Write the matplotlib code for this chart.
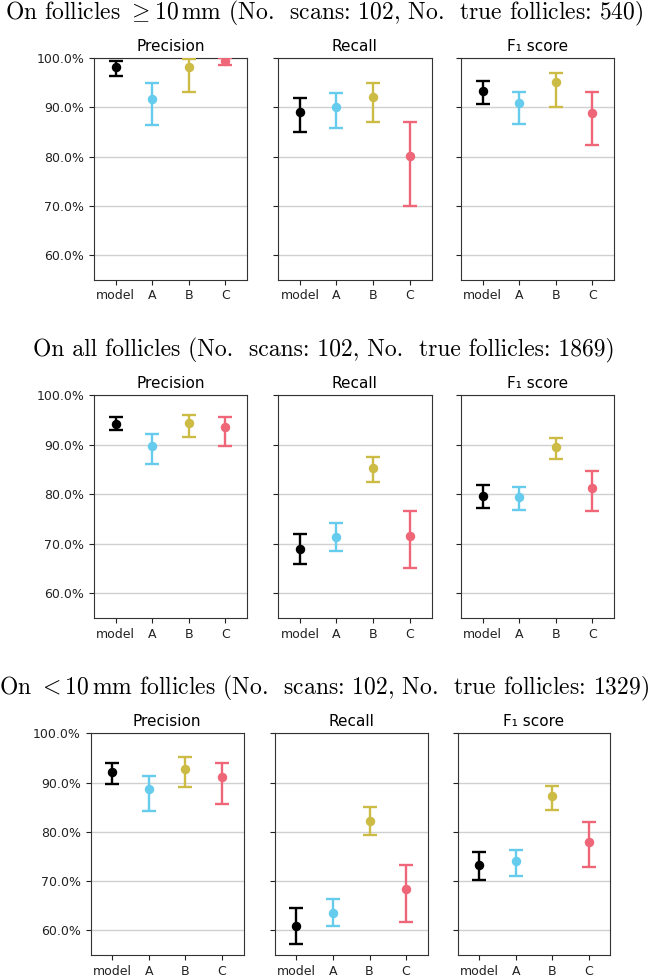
import matplotlib
matplotlib.use("Agg")
import matplotlib.pyplot as plt
import numpy as np
from matplotlib.ticker import PercentFormatter

# annotators / model and their colours
names = ["model", "A", "B", "C"]
colors = ["black", "#66CCEE", "#CCBB44", "#EE6677"]
metrics = ["Precision", "Recall", "F\u2081 score"]

titles = [
    r"On follicles ${\geq}$10$\,$mm (No.  scans: 102, No.  true follicles: 540)",
    r"On all follicles (No.  scans: 102, No.  true follicles: 1869)",
    r"On ${<}$10$\,$mm follicles (No.  scans: 102, No.  true follicles: 1329)",
]

# values in %, per metric: [model, A, B, C]
# --- follicles >= 10 mm
big_prec = [98.3, 91.7, 98.3, 99.5]
big_prec_lo = [96.5, 86.5, 93.2, 98.6]
big_prec_hi = [99.4, 94.9, 99.9, 100.0]
big_rec = [89.0, 90.0, 92.2, 80.2]
big_rec_lo = [85.0, 85.8, 87.0, 70.0]
big_rec_hi = [91.9, 93.0, 94.9, 87.1]
big_f1 = [93.4, 90.9, 95.2, 88.8]
big_f1_lo = [90.8, 86.7, 90.0, 82.3]
big_f1_hi = [95.3, 93.2, 97.1, 93.1]

# --- all follicles
all_prec = [94.3, 89.7, 94.4, 93.6]
all_prec_lo = [92.9, 86.2, 91.6, 89.8]
all_prec_hi = [95.6, 92.1, 96.1, 95.6]
all_rec = [68.9, 71.3, 85.3, 71.6]
all_rec_lo = [66.0, 68.5, 82.5, 65.1]
all_rec_hi = [72.0, 74.1, 87.6, 76.6]
all_f1 = [79.7, 79.4, 89.6, 81.2]
all_f1_lo = [77.3, 76.8, 87.2, 76.6]
all_f1_hi = [81.8, 81.5, 91.3, 84.8]

# --- follicles < 10 mm
small_prec = [92.1, 88.6, 92.8, 91.1]
small_prec_lo = [89.8, 84.2, 89.0, 85.6]
small_prec_hi = [94.0, 91.4, 95.1, 94.0]
small_rec = [60.8, 63.6, 82.3, 68.3]
small_rec_lo = [57.3, 60.8, 79.3, 61.6]
small_rec_hi = [64.5, 66.4, 85.0, 73.3]
small_f1 = [73.2, 74.1, 87.2, 78.0]
small_f1_lo = [70.2, 71.1, 84.4, 72.8]
small_f1_hi = [76.0, 76.3, 89.4, 81.9]

sections = [
    [(big_prec, big_prec_lo, big_prec_hi), (big_rec, big_rec_lo, big_rec_hi), (big_f1, big_f1_lo, big_f1_hi)],
    [(all_prec, all_prec_lo, all_prec_hi), (all_rec, all_rec_lo, all_rec_hi), (all_f1, all_f1_lo, all_f1_hi)],
    [(small_prec, small_prec_lo, small_prec_hi), (small_rec, small_rec_lo, small_rec_hi), (small_f1, small_f1_lo, small_f1_hi)],
]

plt.rcParams["mathtext.fontset"] = "cm"

W, H = 648, 976
fig = plt.figure(figsize=(W / 100, H / 100), dpi=100)

# pixel layout (top, bottom, x offset, title y)
rows = [(58.3, 279.5, 0.0, 13), (395.3, 618.0, 0.0, 350), (733.3, 955.0, -3.5, 688)]
cols = [(94, 247), (278, 431.5), (461, 614)]

x = np.arange(len(names))
for r, (top, bot, dx, ty) in enumerate(rows):
    fig.text(324 / W, 1 - ty / H, titles[r], ha="center", va="center",
             fontsize=17, family="cmr10")
    for c, (l, rr) in enumerate(cols):
        ax = fig.add_axes([(l + dx) / W, 1 - bot / H, (rr - l) / W, (bot - top) / H])
        vals, lo, hi = (np.array(a) for a in sections[r][c])
        for i in range(len(names)):
            ax.errorbar(x[i], vals[i], yerr=[[vals[i] - lo[i]], [hi[i] - vals[i]]],
                        fmt="o", color=colors[i], ms=5.8, elinewidth=1.7,
                        capsize=5, capthick=1.7, zorder=3)
        ax.set_xlim(-0.6, 3.6)
        ax.set_ylim(55, 100)
        ax.set_yticks([60, 70, 80, 90, 100])
        ax.yaxis.set_major_formatter(PercentFormatter(xmax=100, decimals=1))
        ax.set_xticks(x)
        ax.set_xticklabels(names)
        ax.grid(axis="y", color="#d0d0d0", lw=1, zorder=0)
        ax.tick_params(labelsize=9, colors="#222222", length=3.5)
        for s in ax.spines.values():
            s.set_color("#333333")
        if c > 0:
            ax.set_yticklabels([])
        ax.set_title(metrics[c], fontsize=11, pad=5)

fig.savefig("out.png", dpi=100)
